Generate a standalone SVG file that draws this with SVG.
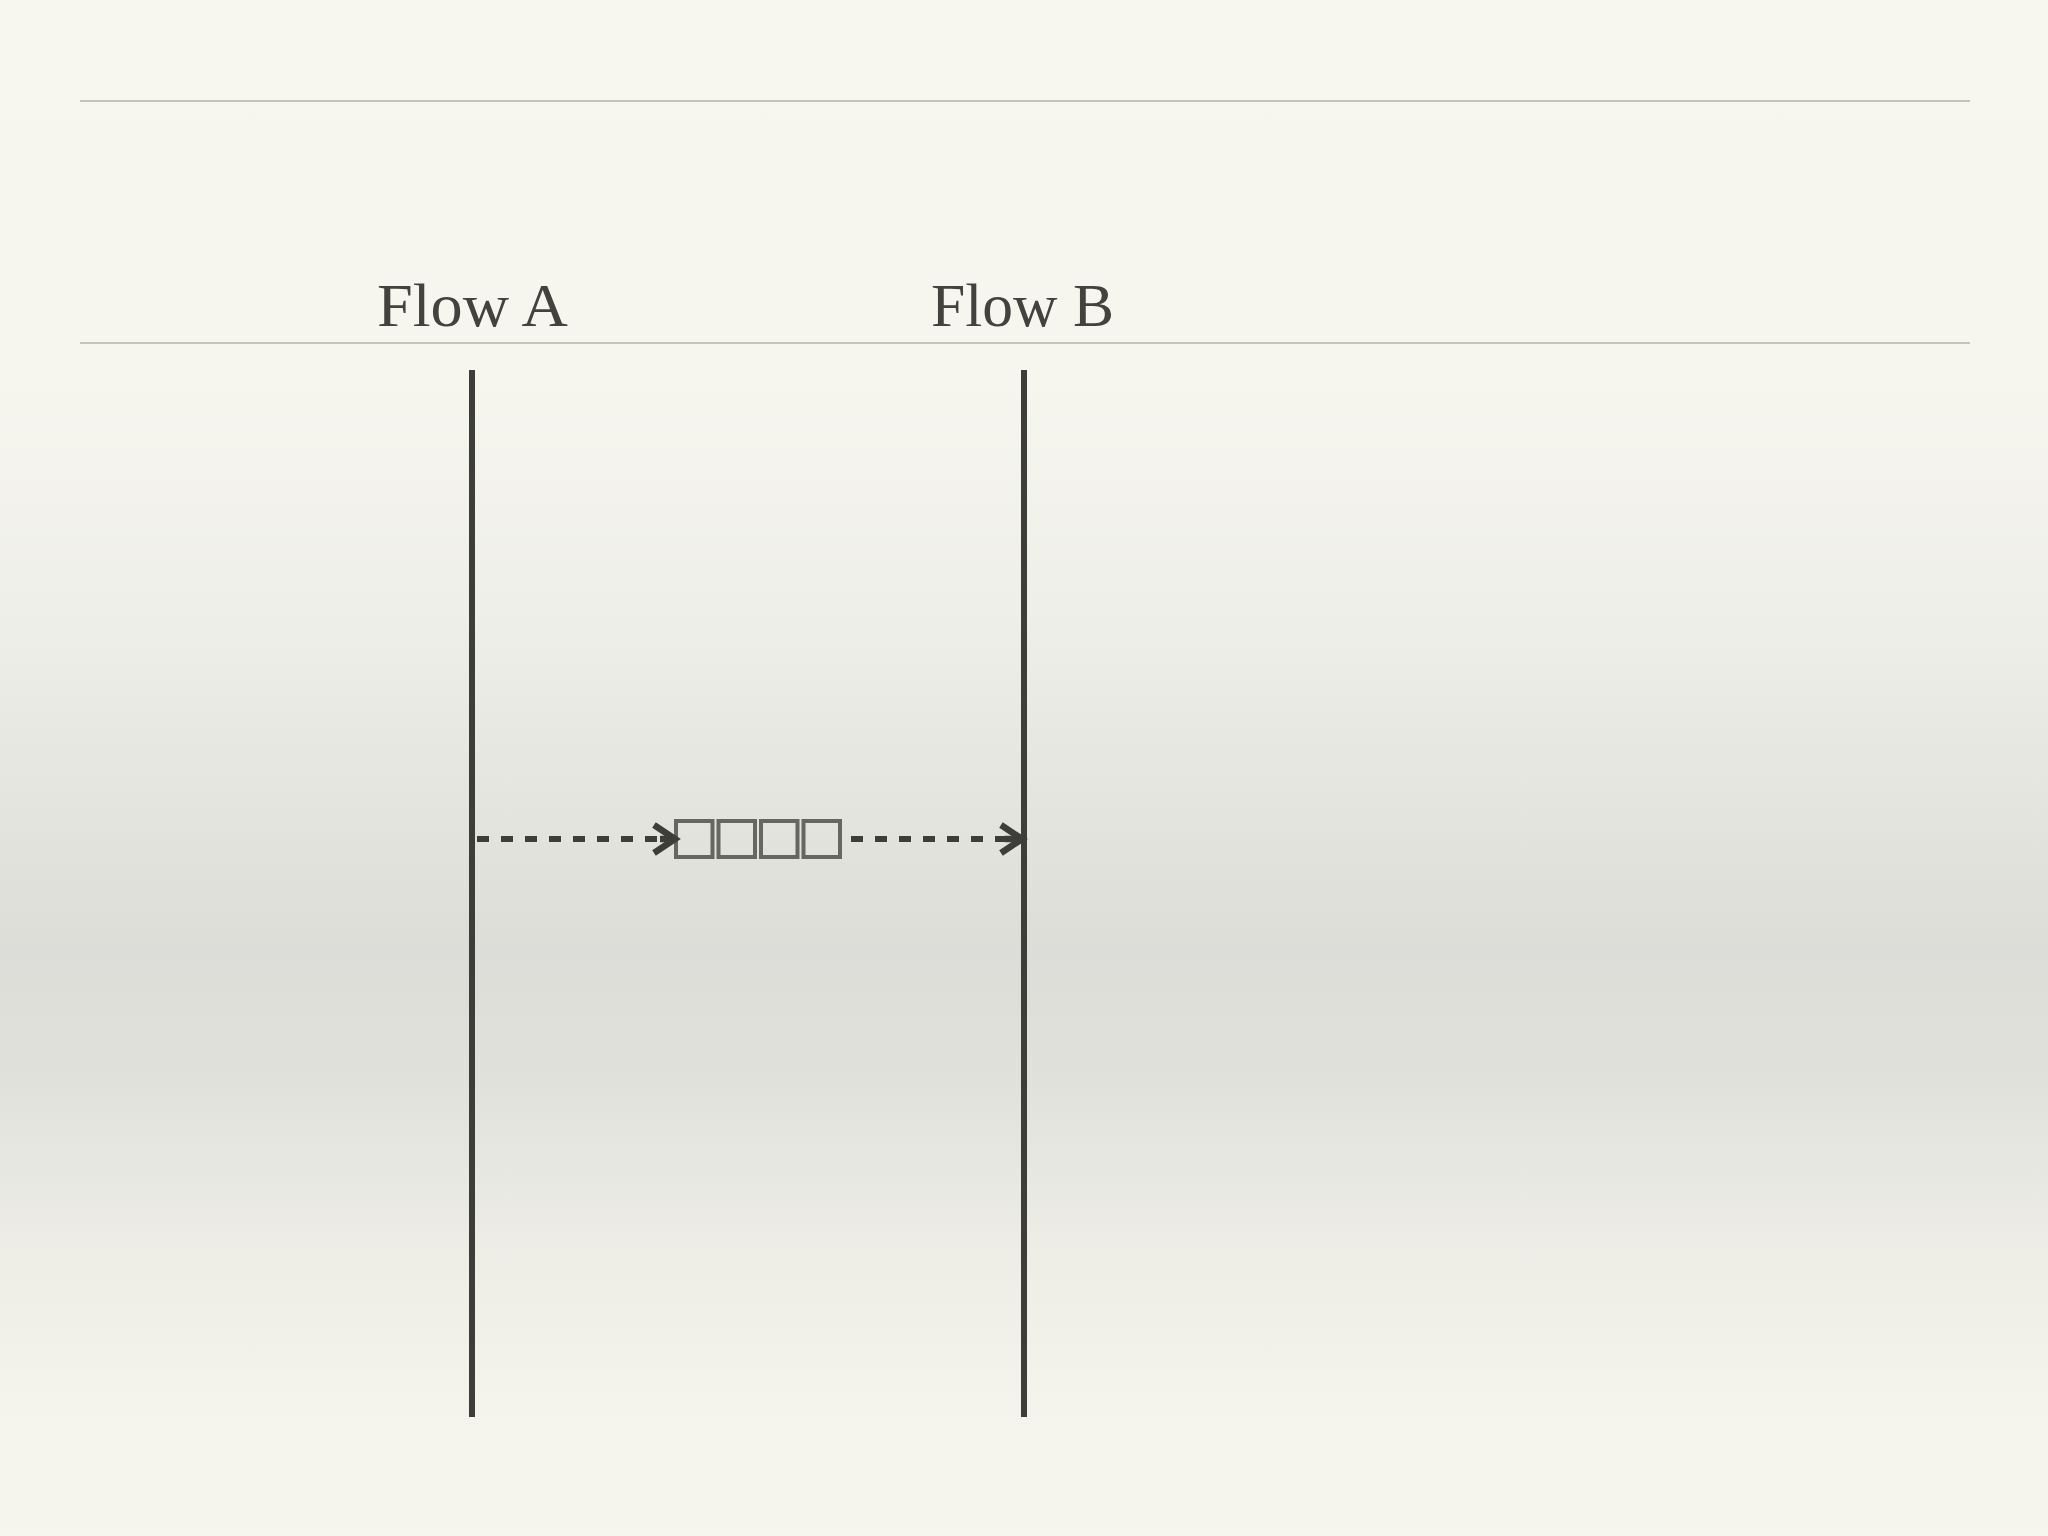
<svg xmlns="http://www.w3.org/2000/svg" width="2048" height="1536" viewBox="0 0 2048 1536">
  <defs>
    <linearGradient id="bg" x1="0" y1="0" x2="0" y2="1">
      <stop offset="0" stop-color="#f7f7ef"/>
      <stop offset="0.25" stop-color="#f6f6ef"/>
      <stop offset="0.40" stop-color="#efefe9"/>
      <stop offset="0.52" stop-color="#e5e5e0"/>
      <stop offset="0.62" stop-color="#dcdcd8"/>
      <stop offset="0.70" stop-color="#e1e1dc"/>
      <stop offset="0.82" stop-color="#eeeee7"/>
      <stop offset="0.92" stop-color="#f4f4ec"/>
      <stop offset="1" stop-color="#f6f6ee"/>
    </linearGradient>
    <style>
      .rule { stroke: #c4c4ba; stroke-width: 2; fill: none; }
      .life { stroke: #3d3d3a; stroke-width: 6; fill: none; }
      .label { font-family: "Liberation Serif", "DejaVu Serif", serif; font-size: 62px; fill: #42423f; }
      .msg { stroke: #3d3d3a; stroke-width: 6; fill: none; stroke-dasharray: 12 12; }
      .head { stroke: #3d3d3a; stroke-width: 6.5; fill: none; stroke-linecap: butt; stroke-linejoin: miter; }
      .cell { stroke: #666662; stroke-width: 4; fill: none; }
    </style>
  </defs>
  <rect width="2048" height="1536" fill="url(#bg)"/>
  <line class="rule" x1="80" y1="101" x2="1970" y2="101"/>
  <line class="rule" x1="80" y1="343" x2="1970" y2="343"/>

  <g id="flowA">
    <text class="label" x="377" y="326" textLength="191" lengthAdjust="spacingAndGlyphs">Flow A</text>
    <line class="life" x1="472" y1="370" x2="472" y2="1417"/>
  </g>
  <g id="flowB">
    <text class="label" x="931" y="326" textLength="183" lengthAdjust="spacingAndGlyphs">Flow B</text>
    <line class="life" x1="1024" y1="370" x2="1024" y2="1417"/>
  </g>
  <g id="queue">
    <rect class="cell" x="676" y="821" width="36.5" height="36"/>
    <rect class="cell" x="718.5" y="821" width="36.5" height="36"/>
    <rect class="cell" x="761" y="821" width="36.5" height="36"/>
    <rect class="cell" x="803.5" y="821" width="36.5" height="36"/>
  </g>
  <g id="connectors">
    <line class="msg" x1="475" y1="839" x2="672" y2="839" stroke-dashoffset="-2"/>
    <line class="head" x1="660" y1="839" x2="674" y2="839"/>
    <polyline class="head" points="654,825 675,839 654,853"/>
    <line class="msg" x1="851" y1="839" x2="1010" y2="839"/>
    <line class="head" x1="1005" y1="839" x2="1021" y2="839"/>
    <polyline class="head" points="1001,825 1022,839 1001,853"/>
  </g>
</svg>
